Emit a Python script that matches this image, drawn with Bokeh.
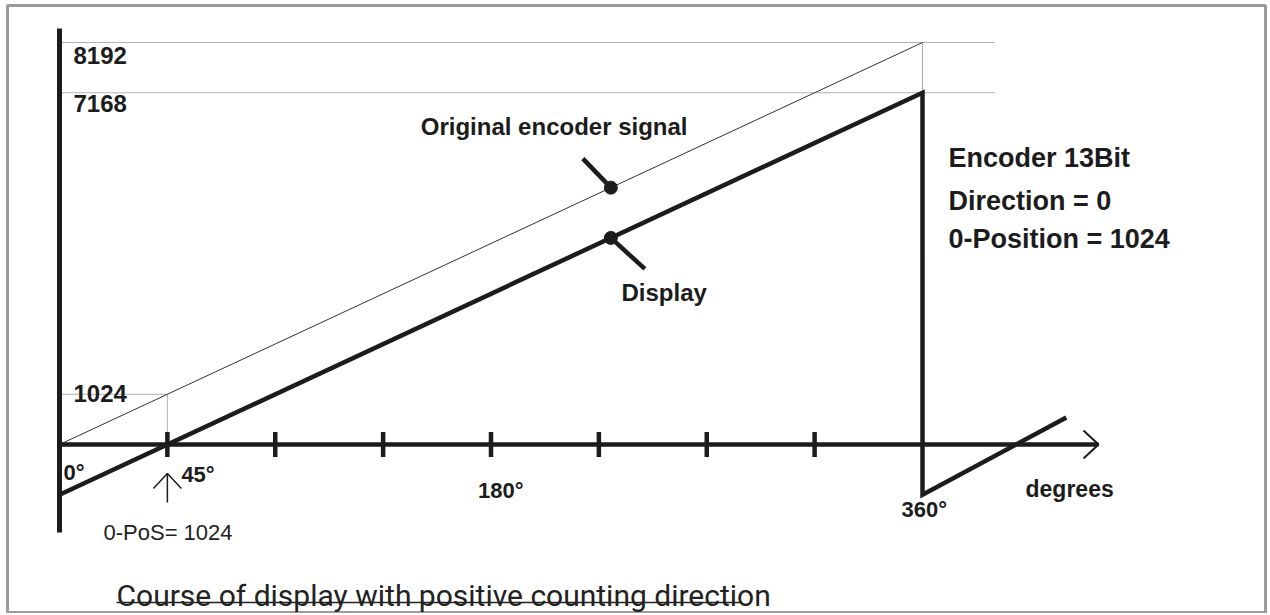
from bokeh.plotting import figure
from bokeh.models import Range1d
from bokeh.core.properties import value
from bokeh.embed import file_html
from bokeh.resources import INLINE

# ---------------- data ----------------
orig_deg = [0, 360]
orig_val = [0, 8192]
disp_deg = [0, 360, 360, 420]
disp_val = [-1024, 7168, -1024, 550]
tick_deg = [45, 90, 135, 180, 225, 270, 315]
angle_label_deg = [0, 45, 180, 360]
angle_labels = ["0°", "45°", "180°", "360°"]
level_vals = [8192, 7168, 1024]
level_labels = ["8192", "7168", "1024"]
zero_pos_deg = 45
zero_pos_val = 1024
marker_deg = [230, 230]
marker_val = [5234, 4210]
info_lines = ["Encoder 13Bit", "Direction = 0", "0-Position = 1024"]

# ---------------- layout (picture pixels) ----------------
W, H = 1268, 613
BL, BT, BR, BB = 7, 5, 3, 1          # borders around the frame
PX0, PX360 = 59, 922                 # pixel x of 0 deg and 360 deg
PY0, PY8192 = 444, 42                # pixel y of 0 and 8192
kx = (PX360 - PX0) / 360.0
ky = (PY0 - PY8192) / 8192.0


def dx(px):
    return (px - PX0) / kx


def dy(py):
    return (PY0 - py) / ky


def ox(n):
    return n / kx


def oy(n):
    return n / ky


p = figure(width=W, height=H, output_backend="svg", toolbar_location=None,
           x_range=Range1d(dx(BL), dx(W - BR)),
           y_range=Range1d(dy(H - BB), dy(BT)),
           min_border_left=BL, min_border_right=BR, min_border_top=BT, min_border_bottom=BB)
p.axis.visible = False
p.grid.visible = False
p.outline_line_color = "#9b9b9f"
p.outline_line_width = 3
p.background_fill_color = "white"
p.border_fill_color = "white"

INK = "#1c1c1c"
SANS = value("Liberation Sans")

# dotted reference lines
dot_kw = dict(line_color="#666666", line_width=1, line_dash="1 1")
for v in level_vals[:2]:
    p.line([0, dx(995)], [v, v], **dot_kw)
p.line([360, 360], [level_vals[1], level_vals[0]], **dot_kw)
p.line([0, zero_pos_deg, zero_pos_deg], [zero_pos_val, zero_pos_val, 0], **dot_kw)

# original signal (thin)
p.line(orig_deg, orig_val, line_color="#333333", line_width=1)

# axes
p.line([0, 0], [dy(532), dy(28)], line_color=INK, line_width=5)
p.line([0, dx(1098)], [0, 0], line_color=INK, line_width=4.5)
p.line([dx(1083), dx(1098), dx(1083)], [oy(14), 0, -oy(14)], line_color=INK, line_width=2)
p.segment(x0=tick_deg, y0=[-oy(12.5)] * len(tick_deg), x1=tick_deg, y1=[oy(12.5)] * len(tick_deg),
          line_color=INK, line_width=4.5)

# display (thick)
p.line(disp_deg, disp_val, line_color=INK, line_width=4.5, line_join="miter")

# leaders and markers
p.line([marker_deg[0] - ox(28), marker_deg[0]], [marker_val[0] + oy(29), marker_val[0]],
       line_color=INK, line_width=4.5)
p.line([marker_deg[1], marker_deg[1] + ox(34)], [marker_val[1], marker_val[1] - oy(31)],
       line_color=INK, line_width=4.5)
p.scatter(marker_deg, marker_val, size=13, color=INK)

# zero-position arrow
p.line([zero_pos_deg, zero_pos_deg], [dy(502), dy(473)], line_color=INK, line_width=1.5)
p.line([zero_pos_deg - ox(14), zero_pos_deg, zero_pos_deg + ox(14)], [dy(488), dy(473), dy(488)],
       line_color=INK, line_width=1.5)

# level labels
lvl_off = [13, 11, -1]
p.text(x=[dx(73)] * 3, y=[v - oy(o) for v, o in zip(level_vals, lvl_off)], text=level_labels,
       text_font=SANS, text_font_style="bold", text_font_size="24px",
       text_baseline="alphabetic", text_align="left", text_color=INK)

# angle labels
ang_off = [4, 14, -13, -21]
ang_base = [472, 474, 490, 509]
p.text(x=[a + ox(o) for a, o in zip(angle_label_deg, ang_off)], y=[dy(b) for b in ang_base],
       text=angle_labels, text_font=SANS, text_font_style="bold", text_font_size="22px",
       text_baseline="alphabetic", text_align="left", text_color=INK)

p.text(x=[dx(1025)], y=[dy(488)], text=["degrees"], text_font=SANS, text_font_style="bold",
       text_font_size="23px", text_baseline="alphabetic", text_align="left", text_color=INK)

p.text(x=[dx(687)], y=[dy(126)], text=["Original encoder signal"], text_font=SANS,
       text_font_style="bold", text_font_size="24px", text_baseline="alphabetic",
       text_align="right", text_color=INK)
p.text(x=[dx(621)], y=[dy(292)], text=["Display"], text_font=SANS, text_font_style="bold",
       text_font_size="24px", text_baseline="alphabetic", text_align="left", text_color=INK)

p.text(x=[dx(948)] * 3, y=[dy(157), dy(200), dy(238)], text=info_lines, text_font=SANS,
       text_font_style="bold", text_font_size="27px", text_baseline="alphabetic",
       text_align="left", text_color=INK)

p.text(x=[dx(103)], y=[dy(532)], text=["0-PoS= 1024"], text_font=SANS,
       text_font_size="22px", text_baseline="alphabetic", text_align="left", text_color="#222222")

# caption
p.text(x=[dx(116)], y=[dy(595)], text=["Course of display with positive counting direction"],
       text_font=value("Roboto"), text_font_size="30px",
       text_baseline="alphabetic", text_align="left", text_color="#222222")
p.line([dx(116), dx(742)], [dy(602), dy(602)], line_color="#222222", line_width=1.5)

open("out.html", "w").write(file_html(p, INLINE))
